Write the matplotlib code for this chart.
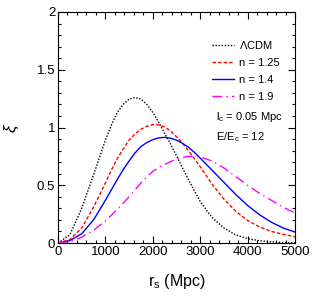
import matplotlib
matplotlib.use("Agg")
import matplotlib.pyplot as plt
from matplotlib.ticker import MultipleLocator, FuncFormatter

plt.rcParams['font.family'] = ['Liberation Sans', 'DejaVu Sans']
plt.rcParams['mathtext.fontset'] = 'custom'
plt.rcParams['mathtext.rm'] = 'Liberation Sans'
plt.rcParams['mathtext.it'] = 'Liberation Sans:italic'

r = [0, 250, 500, 750, 1000, 1125, 1250, 1375, 1500, 1625, 1750, 1875, 2000, 2125,
     2250, 2375, 2500, 2625, 2750, 2875, 3000, 3250, 3500, 3750, 4000, 4250, 4500,
     4750, 5000]
xi_lcdm = [0, 0.07, 0.30, 0.59, 0.89, 1.02, 1.13, 1.20, 1.245, 1.26, 1.245, 1.20, 1.13,
           1.045, 0.95, 0.855, 0.755, 0.652, 0.55, 0.452, 0.36, 0.22, 0.13, 0.07, 0.038,
           0.02, 0.01, 0.004, 0.001]
xi_n125 = [0, 0.03, 0.13, 0.31, 0.52, 0.63, 0.73, 0.815, 0.89, 0.945, 0.985, 1.01, 1.025,
           1.023, 1.005, 0.97, 0.92, 0.865, 0.80, 0.732, 0.66, 0.51, 0.38, 0.275, 0.195,
           0.14, 0.10, 0.075, 0.055]
xi_n14 = [0, 0.02, 0.08, 0.20, 0.37, 0.46, 0.55, 0.635, 0.71, 0.78, 0.835, 0.87, 0.895,
          0.91, 0.915, 0.907, 0.89, 0.863, 0.83, 0.785, 0.735, 0.63, 0.525, 0.42, 0.325,
          0.245, 0.18, 0.13, 0.095]
xi_n19 = [0, 0.012, 0.05, 0.11, 0.19, 0.24, 0.29, 0.345, 0.40, 0.46, 0.52, 0.573, 0.62,
          0.655, 0.68, 0.705, 0.725, 0.74, 0.75, 0.752, 0.745, 0.71, 0.65, 0.575, 0.50,
          0.43, 0.37, 0.31, 0.26]

labels = [r'$\Lambda$CDM', 'n = 1.25', 'n = 1.4', 'n = 1.9']

fig = plt.figure(figsize=(3.15, 3.06), dpi=100)
ax = fig.add_axes([58/315, 63/306, 237/315, 231/306])

ax.plot(r, xi_lcdm, color='black', ls=(0, (1, 1.2)), lw=1.0, label=labels[0])
ax.plot(r, xi_n125, color='red', ls=(0, (2.5, 1.5)), lw=1.0, label=labels[1])
ax.plot(r, xi_n14, color='blue', ls='-', lw=1.0, label=labels[2])
ax.plot(r, xi_n19, color='magenta', ls=(0, (7, 3, 1, 3)), lw=1.0, label=labels[3])

ax.set_xlim(0, 5000)
ax.set_ylim(0, 2)
ax.xaxis.set_major_locator(MultipleLocator(1000))
ax.xaxis.set_minor_locator(MultipleLocator(200))
ax.yaxis.set_major_locator(MultipleLocator(0.5))
ax.yaxis.set_minor_locator(MultipleLocator(0.1))
ax.yaxis.set_major_formatter(FuncFormatter(lambda v, p: f'{v:g}'))
ax.tick_params(which='both', direction='in', top=True, right=True, labelsize=9.5, width=0.8)
ax.tick_params(which='major', length=5)
ax.tick_params(which='minor', length=2.5)
ax.tick_params(axis='x', pad=2)
ax.tick_params(axis='y', pad=2)
for s in ax.spines.values():
    s.set_linewidth(0.8)

ax.set_xlabel(r'r$_{\rm s}$ (Mpc)', fontsize=11.5, labelpad=10)
fig.text(12/315, 1 - 128/306, r'$\xi$', fontsize=12, rotation=90, ha='center', va='center')

leg = ax.legend(loc='upper left', bbox_to_anchor=(0.65, 0.885), frameon=False,
                fontsize=8, handlelength=2.0, handletextpad=0.4, labelspacing=0.64,
                borderaxespad=0, borderpad=0)

fig.text(216/315, 1 - 117/306, r'l$_{\rm c}$ = 0.05 Mpc', fontsize=8, va='center', ha='left')
fig.text(216/315, 1 - 137/306, r'E/E$_{\rm c}$ = 12', fontsize=8, va='center', ha='left')

fig.savefig('out.png', dpi=100)
